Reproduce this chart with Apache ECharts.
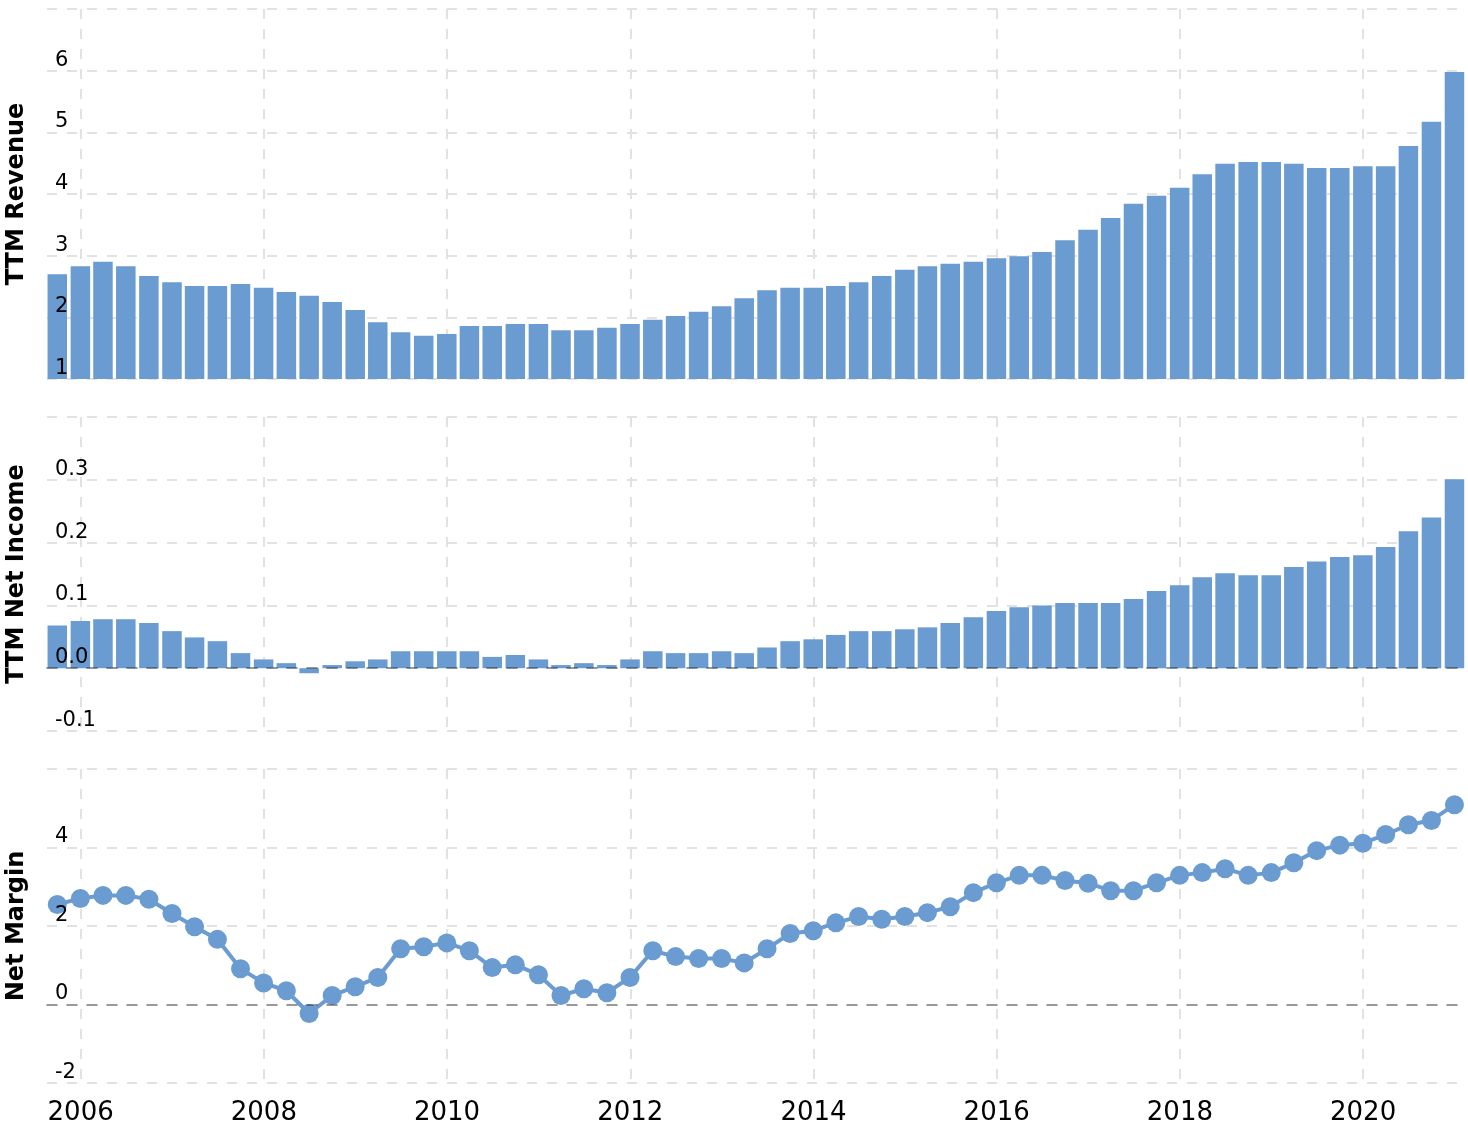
<!DOCTYPE html>
<html><head><meta charset="utf-8">
<script src="https://cdn.jsdelivr.net/npm/echarts@6/dist/echarts.min.js"></script>
<style>html,body{margin:0;padding:0;background:#fff}#c{width:1468px;height:1128px}</style>
</head><body><div id="c"></div><script>
const dates = [
 '2005-09-30','2005-12-31',
 '2006-03-31','2006-06-30','2006-09-30','2006-12-31',
 '2007-03-31','2007-06-30','2007-09-30','2007-12-31',
 '2008-03-31','2008-06-30','2008-09-30','2008-12-31',
 '2009-03-31','2009-06-30','2009-09-30','2009-12-31',
 '2010-03-31','2010-06-30','2010-09-30','2010-12-31',
 '2011-03-31','2011-06-30','2011-09-30','2011-12-31',
 '2012-03-31','2012-06-30','2012-09-30','2012-12-31',
 '2013-03-31','2013-06-30','2013-09-30','2013-12-31',
 '2014-03-31','2014-06-30','2014-09-30','2014-12-31',
 '2015-03-31','2015-06-30','2015-09-30','2015-12-31',
 '2016-03-31','2016-06-30','2016-09-30','2016-12-31',
 '2017-03-31','2017-06-30','2017-09-30','2017-12-31',
 '2018-03-31','2018-06-30','2018-09-30','2018-12-31',
 '2019-03-31','2019-06-30','2019-09-30','2019-12-31',
 '2020-03-31','2020-06-30','2020-09-30','2020-12-31'
];
const revenue = [
 2.70,2.83,2.90,2.83,2.67,2.57,2.51,2.51,2.54,2.48,
 2.41,2.35,2.25,2.12,1.92,1.76,1.70,1.73,1.86,1.86,
 1.89,1.89,1.79,1.79,1.83,1.89,1.96,2.02,2.09,2.18,
 2.31,2.44,2.48,2.48,2.51,2.57,2.67,2.77,2.83,2.87,
 2.90,2.96,2.99,3.06,3.25,3.42,3.61,3.84,3.97,4.10,
 4.32,4.49,4.52,4.52,4.49,4.42,4.42,4.45,4.45,4.78,
 5.17,5.98
];
const netIncome = [
 0.068,0.075,0.078,0.078,0.072,0.059,0.049,0.043,0.024,0.014,
 0.008,-0.008,0.005,0.011,0.014,0.027,0.027,0.027,0.027,0.018,
 0.021,0.014,0.005,0.008,0.005,0.014,0.027,0.024,0.024,0.027,
 0.024,0.033,0.043,0.046,0.053,0.059,0.059,0.062,0.065,0.072,
 0.081,0.091,0.097,0.100,0.104,0.104,0.104,0.110,0.123,0.132,
 0.145,0.151,0.148,0.148,0.161,0.170,0.177,0.180,0.193,0.218,
 0.240,0.301
];
const netMargin = [
 2.55,2.70,2.78,2.78,2.68,2.32,1.98,1.66,0.91,0.55,
 0.35,-0.23,0.23,0.45,0.69,1.42,1.47,1.57,1.37,0.94,
 1.01,0.76,0.23,0.40,0.30,0.69,1.37,1.22,1.17,1.17,
 1.06,1.42,1.81,1.88,2.08,2.24,2.17,2.24,2.34,2.49,
 2.85,3.10,3.29,3.29,3.16,3.09,2.90,2.90,3.10,3.29,
 3.36,3.46,3.29,3.36,3.61,3.92,4.06,4.11,4.33,4.58,
 4.69,5.09
];
const yearTicks = [2006,2008,2010,2012,2014,2016,2018,2020];
const axisNames = ['TTM Revenue','TTM Net Income','Net Margin'];

// convert a date string to a fractional year (position on the time scale)
function toYear(s){
  const t = Date.parse(s + 'T00:00:00Z');
  const y = new Date(t).getUTCFullYear();
  const a = Date.UTC(y,0,1), b = Date.UTC(y+1,0,1);
  return y + (t - a) / (b - a);
}
const xs = dates.map(toYear);

const COLOR = '#6a9bd1';
const FONT = 'DejaVu Sans';
const X_MIN = toYear('2005-08-20'), X_MAX = toYear('2021-01-30');
const gridDash = {color:'#e2e2e2', width:2, type:[10,10]};

const grids = [
  {left:47, right:6, top:9, height:370, outerBoundsMode:'none', containLabel:false},
  {left:47, right:6, top:417, height:314, outerBoundsMode:'none', containLabel:false},
  {left:47, right:6, top:769, height:314, outerBoundsMode:'none', containLabel:false}
];
const yRanges = [
  {min:1, max:7, interval:1, fmt:v=>String(v)},
  {min:-0.1, max:0.4, interval:0.1, fmt:v=>v.toFixed(1)},
  {min:-2, max:6, interval:2, fmt:v=>String(v)}
];

function gridX(i){
  return {
    type:'value', gridIndex:i, min:X_MIN, max:X_MAX, position:'bottom',
    axisLine:{show:false, onZero:false},
    axisTick:{show:false, customValues:yearTicks},
    axisLabel:{show:i===2, customValues:yearTicks, margin:17, fontSize:26, color:'#000', fontFamily:FONT,
      formatter:v=>String(Math.round(v))},
    splitLine:{show:true, lineStyle:gridDash},
    z:0
  };
}
function zeroX(i){
  return {
    type:'value', gridIndex:i, min:X_MIN, max:X_MAX, position:'bottom',
    axisLine:{show:true, onZero:true, onZeroAxisIndex:i, lineStyle:{color:'rgba(0,0,0,0.32)', width:2, type:[10,10]}},
    axisTick:{show:false}, axisLabel:{show:false}, splitLine:{show:false},
    z:10
  };
}
// y axis carrying the scale and horizontal grid lines (drawn below marks)
function gridY(i){
  const r = yRanges[i];
  return {
    type:'value', gridIndex:i, position:'left', min:r.min, max:r.max, interval:r.interval,
    axisLine:{show:false}, axisTick:{show:false}, axisLabel:{show:false},
    splitLine:{show:true, lineStyle:gridDash}, z:0
  };
}
// same scale, only the name and tick labels, drawn above marks
function labelY(i){
  const r = yRanges[i];
  return {
    type:'value', gridIndex:i, position:'left', min:r.min, max:r.max, interval:r.interval,
    name:axisNames[i], nameLocation:'middle', nameGap:18,
    nameTextStyle:{fontSize:24, fontWeight:'bold', color:'#000', fontFamily:FONT},
    axisLine:{show:false}, axisTick:{show:false},
    axisLabel:{inside:true, margin:8, fontSize:21, color:'#000', fontFamily:FONT,
      verticalAlign:'bottom', padding:[0,0,0,0], showMaxLabel:false, formatter:r.fmt},
    splitLine:{show:false}, z:10
  };
}

const chart = echarts.init(document.getElementById('c'), null, {renderer:'canvas'});
chart.setOption({
  animation:false,
  backgroundColor:'#fff',
  grid:grids,
  xAxis:[gridX(0), gridX(1), gridX(2), zeroX(1), zeroX(2)],
  yAxis:[gridY(0), gridY(1), gridY(2), labelY(0), labelY(1), labelY(2)],
  series:[
    {type:'bar', xAxisIndex:0, yAxisIndex:0, barWidth:19.5,
     itemStyle:{color:COLOR}, data:xs.map((x,i)=>[x, revenue[i]])},
    {type:'bar', xAxisIndex:1, yAxisIndex:1, barWidth:19.5,
     itemStyle:{color:COLOR}, data:xs.map((x,i)=>[x, netIncome[i]])},
    {type:'line', xAxisIndex:2, yAxisIndex:2, symbol:'circle', symbolSize:19,
     lineStyle:{color:COLOR, width:4}, itemStyle:{color:COLOR},
     data:xs.map((x,i)=>[x, netMargin[i]])}
  ]
});
</script></body></html>
